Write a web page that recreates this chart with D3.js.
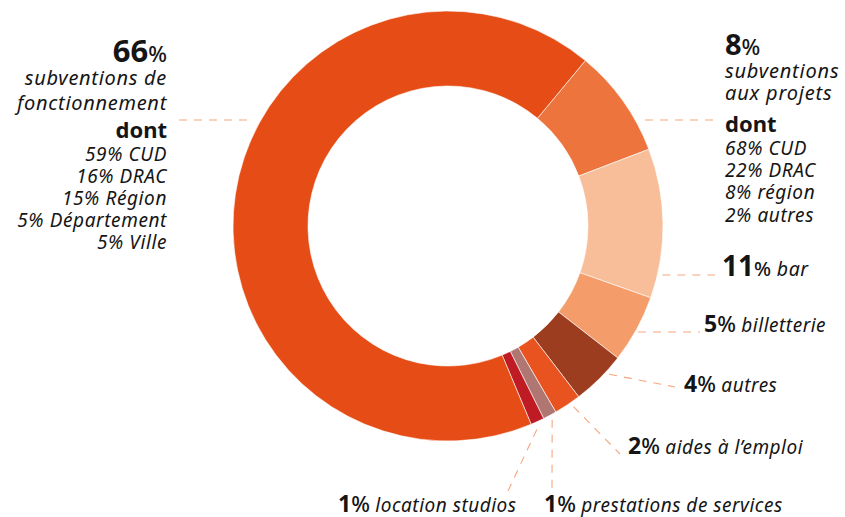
<!DOCTYPE html>
<html><head><meta charset="utf-8">
<script src="https://cdn.jsdelivr.net/npm/d3@7"></script>
<style>
html,body{margin:0;padding:0;background:#fff;}
svg{display:block;font-family:"Noto Sans",sans-serif;}
</style></head>
<body><svg id="c" width="845" height="517"></svg>
<script>
// ---- data ----
const categories = ["subventions aux projets","bar","billetterie","autres","aides à l’emploi","prestations de services","location studios","subventions de fonctionnement"];
const values = [8, 11, 5, 4, 2, 1, 1, 66];
const colors = ["#EE743E","#F8BE9A","#F49C6A","#9C3D20","#E8531F","#B07672","#BE1B25","#E64D16"];
const fonctDetailValues = [59, 16, 15, 5, 5];
const fonctDetailLabels = ["CUD","DRAC","Région","Département","Ville"];
const projetsDetailValues = [68, 22, 8, 2];
const projetsDetailLabels = ["CUD","DRAC","région","autres"];

// ---- layout ----
const cx = 448, cy = 226, R = 215, r0 = 140;
const startDeg = 39.7;
const leaderColor = "#F5A67D";

const svg = d3.select("#c");
const g = svg.append("g").attr("transform", `translate(${cx},${cy})`);

const pie = d3.pie().sort(null).value(d => d)
  .startAngle(startDeg * Math.PI / 180)
  .endAngle(startDeg * Math.PI / 180 + 2 * Math.PI);
const arcs = pie(values);
const arc = d3.arc().innerRadius(r0).outerRadius(R);

g.selectAll("path.slice").data(arcs).join("path")
  .attr("class","slice")
  .attr("d", arc)
  .attr("fill", (d,i) => colors[i])
  .attr("stroke", "#fff").attr("stroke-width", 0.6);

// leader lines
function ptAt(angle, rad){ return [cx + rad*Math.sin(angle), cy - rad*Math.cos(angle)]; }
function ringX(y, side, gap){ const dy = y - cy; return cx + side*(Math.sqrt(R*R - dy*dy) + gap); }

const labelLayout = [
  {i:7, type:"h", y:120, side:-1, gap:14, xEnd:178},
  {i:0, type:"h", y:120, side:1, gap:10, xEnd:713},
  {i:1, type:"h", y:275, side:1, gap:5, xEnd:715},
  {i:2, type:"h", y:332, side:1, gap:3, xEnd:700},
  {i:3, type:"d", off:4, end:[675,387], shift:-2.6},
  {i:4, type:"d", off:5, end:[620,454], shift:-1},
  {i:5, type:"d", off:5, end:[552,490], shift:0},
  {i:6, type:"d", off:7, end:[508,491], shift:1}
];
const lines = labelLayout.map(l => {
  const a = arcs[l.i];
  if (l.type === "h") return [[ringX(l.y, l.side, l.gap), l.y],[l.xEnd, l.y]];
  const mid = (a.startAngle + a.endAngle)/2 + l.shift*Math.PI/180;
  return [ptAt(mid, R + l.off), l.end];
});
svg.selectAll("line.leader").data(lines).join("line")
  .attr("class","leader")
  .attr("x1", d => d[0][0]).attr("y1", d => d[0][1])
  .attr("x2", d => d[1][0]).attr("y2", d => d[1][1])
  .attr("stroke", leaderColor).attr("stroke-width", 1.1)
  .attr("stroke-dasharray", "8,7");

const ink = "#151515";
function numLine(x, y, anchor, v, numSize, pctSize, label, labSize, ls){
  const t = svg.append("text").attr("x", x).attr("y", y).attr("text-anchor", anchor).attr("fill", ink);
  t.append("tspan").attr("font-weight", 700).attr("font-size", numSize).text(v);
  t.append("tspan").attr("font-weight", 500).attr("font-size", pctSize).text("%");
  if (label) t.append("tspan").attr("font-style","italic").attr("font-size", labSize)
    .attr("letter-spacing", ls || 0).text(" " + label);
  return t;
}
function italLine(x, y, anchor, s, size, ls){
  svg.append("text").attr("x", x).attr("y", y).attr("text-anchor", anchor)
    .attr("fill", ink).attr("font-style","italic").attr("font-size", size)
    .attr("letter-spacing", ls).text(s);
}
function boldLine(x, y, anchor, s, size){
  svg.append("text").attr("x", x).attr("y", y).attr("text-anchor", anchor)
    .attr("fill", ink).attr("font-weight", 700).attr("font-size", size).text(s);
}

// left block (66%)
numLine(167, 62, "end", values[7], 31, 22);
italLine(167, 85, "end", "subventions de", 20, 0.7);
italLine(167, 110, "end", "fonctionnement", 20, 0.7);
boldLine(167, 138, "end", "dont", 22);
fonctDetailValues.forEach((v,k) => italLine(167, 161 + k*22, "end", `${v}% ${fonctDetailLabels[k]}`, 19, 0.6));

// right block (8%)
numLine(725, 55, "start", values[0], 29, 22);
italLine(725, 78, "start", "subventions", 20, 0.8);
italLine(725, 100, "start", "aux projets", 20, 0.8);
boldLine(725, 132, "start", "dont", 22);
projetsDetailValues.forEach((v,k) => italLine(725, 155 + k*22.2, "start", `${v}% ${projetsDetailLabels[k]}`, 19, 0.6));

// single-line labels
numLine(722, 276, "start", values[1], 28, 20, categories[1], 19.5, 0.6);
numLine(704, 332, "start", values[2], 23, 22, categories[2], 19, 0.5);
numLine(684, 392, "start", values[3], 23, 22, categories[3], 19, 0.5);
numLine(628, 454, "start", values[4], 23, 22, categories[4], 19, 0.5);
numLine(544, 512, "start", values[5], 23, 22, categories[5], 19, 0.5);
numLine(338, 512, "start", values[6], 23, 22, categories[6], 19, 0.5);
</script></body></html>
